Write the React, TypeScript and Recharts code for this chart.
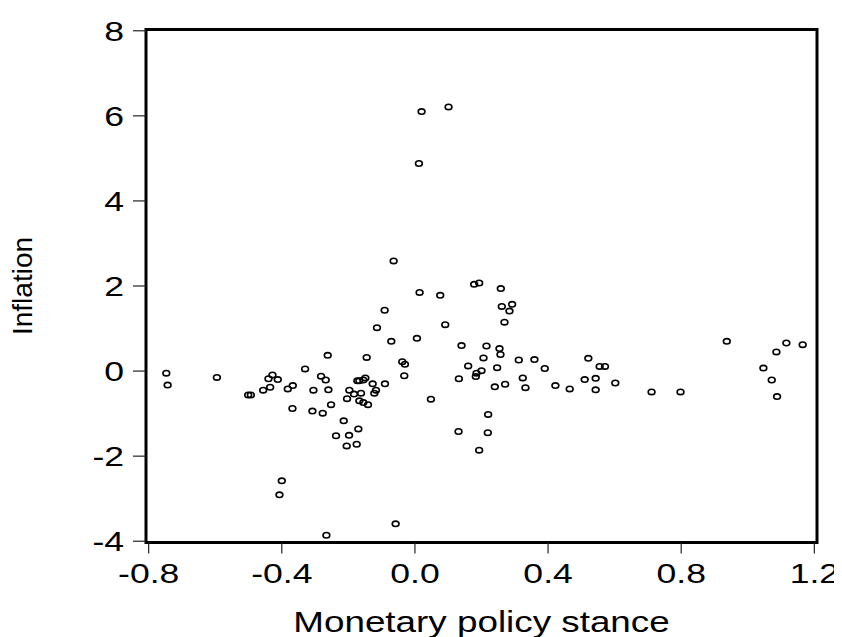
import React from "react";
import { ScatterChart, Scatter, XAxis, YAxis, ReferenceArea } from "recharts";

const stance = [
  -0.747, -0.743, -0.595, -0.501, -0.493, -0.456, -0.44, -0.435, -0.428, -0.412,
  -0.4, -0.407, -0.382, -0.367, -0.368, -0.33, -0.305, -0.308, -0.282, -0.268,
  -0.262, -0.26, -0.277, -0.252, -0.266, -0.214, -0.237, -0.204, -0.197, -0.198,
  -0.205, -0.175, -0.17, -0.173, -0.167, -0.155, -0.149, -0.183, -0.162, -0.167,
  -0.155, -0.141, -0.145, -0.127, -0.117, -0.122, -0.114, -0.09, -0.091, -0.071,
  -0.064, -0.058, -0.038, -0.03, -0.032, 0.014, 0.076, 0.091, 0.006, 0.048,
  0.14, 0.16, 0.132, 0.131, 0.178, 0.193, 0.215, 0.206, 0.2, 0.185,
  0.183, 0.22, 0.219, 0.193, 0.258, 0.261, 0.292, 0.284, 0.269, 0.254,
  0.257, 0.247, 0.24, 0.271, 0.312, 0.359, 0.324, 0.332, 0.39, 0.422,
  0.465, 0.51, 0.521, 0.543, 0.543, 0.555, 0.571, 0.602, 0.711, 0.798,
  0.937, 1.047, 1.072, 1.086, 1.116, 1.165, 1.088, 0.02, 0.101, 0.012,
];

const inflation = [
  -0.05, -0.33, -0.15, -0.56, -0.56, -0.45, -0.18, -0.38, -0.09, -0.2,
  -2.58, -2.91, -0.42, -0.34, -0.88, 0.05, -0.45, -0.94, -0.12, -0.21,
  0.37, -0.44, -0.99, -0.79, -3.86, -1.17, -1.52, -0.65, -0.45, -1.51,
  -1.76, -1.72, -1.36, -0.23, -0.23, -0.21, -0.16, -0.54, -0.52, -0.7,
  -0.74, -0.79, 0.32, -0.3, -0.45, -0.52, 1.02, -0.3, 1.43, 0.7,
  2.59, -3.59, 0.22, 0.16, -0.11, 1.85, 1.78, 1.09, 0.77, -0.66,
  0.6, 0.12, -0.18, -1.42, 2.04, 2.07, 0.59, 0.31, 0.01, -0.05,
  -0.13, -1.02, -1.45, -1.86, 1.94, 1.52, 1.57, 1.41, 1.15, 0.53,
  0.39, 0.08, -0.37, -0.31, 0.26, 0.27, -0.16, -0.39, 0.06, -0.34,
  -0.42, -0.2, 0.3, -0.17, -0.44, 0.11, 0.11, -0.28, -0.49, -0.49,
  0.7, 0.07, -0.21, 0.45, 0.66, 0.62, -0.6, 6.1, 6.21, 4.88,
];

const xTicks = [-0.8, -0.4, 0.0, 0.4, 0.8, 1.2];
const yTicks = [-4, -2, 0, 2, 4, 6, 8];
const xDomain = [-0.808, 1.208];
const yDomain = [-4.03, 8.03];

const data = stance.map((x, i) => ({ x, y: inflation[i] }));

const FONT = "'Liberation Sans', Arial, sans-serif";

const renderXTick = (props: any) => {
  const { x, y, payload } = props;
  return (
    <g transform={`translate(${x},${y + 29}) scale(1.27,1)`}>
      <text x={0} y={0} textAnchor="middle" fontSize={28} fontFamily={FONT} fill="#000">
        {Number(payload.value).toFixed(1)}
      </text>
    </g>
  );
};

const renderYTick = (props: any) => {
  const { x, y, payload } = props;
  return (
    <g transform={`translate(${x - 9},${y + 10}) scale(1.27,1)`}>
      <text x={0} y={0} textAnchor="end" fontSize={28} fontFamily={FONT} fill="#000">
        {String(payload.value)}
      </text>
    </g>
  );
};

const renderXTitle = (props: any) => {
  const vb = props.viewBox || {};
  const cx = vb.x + vb.width / 2;
  return (
    <g transform={`translate(${cx},623.5) scale(1.27,1)`}>
      <text x={0} y={0} textAnchor="middle" fontSize={29} fontFamily={FONT} fill="#000">
        Monetary policy stance
      </text>
    </g>
  );
};

const renderYTitle = (props: any) => {
  const vb = props.viewBox || {};
  const cy = vb.y + vb.height / 2;
  return (
    <g transform={`translate(24,${cy}) rotate(-90)`}>
      <text x={0} y={0} textAnchor="middle" fontSize={28} fontFamily={FONT} fill="#000">
        Inflation
      </text>
    </g>
  );
};

const renderRing = (props: any) => {
  const { cx, cy } = props;
  if (cx == null || cy == null) return <g />;
  return <ellipse cx={cx} cy={cy} rx={3.4} ry={2.7} fill="none" stroke="#000" strokeWidth={1.6} />;
};

export default function App() {
  return (
    <div style={{ width: 834, height: 629, background: "#fff" }}>
      <ScatterChart
        width={834}
        height={629}
        margin={{ top: 21.5, right: 25, left: 0, bottom: 0 }}
        style={{ overflow: "visible" }}
      >
        <XAxis
          type="number"
          dataKey="x"
          domain={xDomain}
          ticks={xTicks}
          allowDataOverflow
          height={94.5}
          axisLine={false}
          tickSize={11}
          tickMargin={0}
          tickLine={{ stroke: "#222", strokeWidth: 1.2 }}
          tick={renderXTick}
          interval={0}
          label={{ content: renderXTitle }}
        />
        <YAxis
          type="number"
          dataKey="y"
          domain={yDomain}
          ticks={yTicks}
          allowDataOverflow
          width={138}
          axisLine={false}
          tickSize={13}
          tickMargin={0}
          tickLine={{ stroke: "#222", strokeWidth: 1.2 }}
          tick={renderYTick}
          interval={0}
          label={{ content: renderYTitle }}
        />
        <ReferenceArea
          x1={xDomain[0]}
          x2={xDomain[1]}
          y1={yDomain[0]}
          y2={yDomain[1]}
          fill="none"
          fillOpacity={0}
          stroke="#000"
          strokeWidth={3}
          ifOverflow="visible"
        />
        <Scatter data={data} isAnimationActive={false} shape={renderRing} />
      </ScatterChart>
    </div>
  );
}
